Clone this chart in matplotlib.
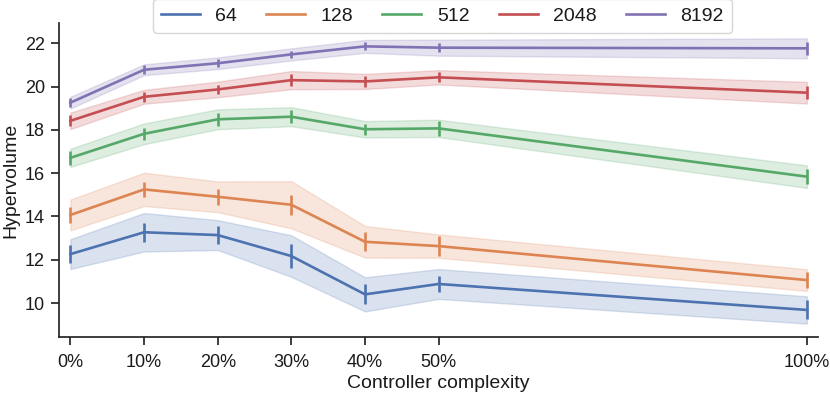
import matplotlib
matplotlib.use("Agg")
import matplotlib.pyplot as plt
import numpy as np

plt.rcParams['font.family'] = ['Liberation Sans', 'DejaVu Sans']

complexity = [0, 10, 20, 30, 40, 50, 100]
tick_labels = ["0%", "10%", "20%", "30%", "40%", "50%", "100%"]
series_names = ["64", "128", "512", "2048", "8192"]

mean_64 = [12.26, 13.27, 13.14, 12.17, 10.40, 10.88, 9.68]
band_64 = [0.69, 0.89, 0.69, 0.96, 0.79, 0.69, 0.63]
err_64 = [0.40, 0.45, 0.42, 0.56, 0.46, 0.38, 0.44]

mean_128 = [14.07, 15.25, 14.91, 14.54, 12.83, 12.63, 11.06]
band_128 = [0.71, 0.77, 0.71, 1.09, 0.73, 0.54, 0.50]
err_128 = [0.38, 0.35, 0.38, 0.47, 0.44, 0.45, 0.38]

mean_512 = [16.71, 17.82, 18.49, 18.61, 18.03, 18.07, 15.84]
band_512 = [0.42, 0.48, 0.46, 0.44, 0.38, 0.40, 0.52]
err_512 = [0.31, 0.27, 0.31, 0.29, 0.25, 0.33, 0.35]

mean_2048 = [18.42, 19.53, 19.87, 20.30, 20.24, 20.43, 19.72]
band_2048 = [0.38, 0.32, 0.36, 0.42, 0.35, 0.33, 0.50]
err_2048 = [0.25, 0.22, 0.21, 0.29, 0.25, 0.23, 0.31]

mean_8192 = [19.26, 20.78, 21.08, 21.49, 21.86, 21.80, 21.77]
band_8192 = [0.27, 0.25, 0.27, 0.28, 0.30, 0.37, 0.46]
err_8192 = [0.21, 0.20, 0.19, 0.17, 0.19, 0.22, 0.31]

colors = ["#4C72B0", "#DD8452", "#55A868", "#C44E52", "#8172B3"]

means = [mean_64, mean_128, mean_512, mean_2048, mean_8192]
bands = [band_64, band_128, band_512, band_2048, band_8192]
errs = [err_64, err_128, err_512, err_2048, err_8192]

fig = plt.figure(figsize=(8.3, 3.94), dpi=100)
ax = fig.add_axes([0.0711, 0.1447, 0.9144, 0.7969])

x = np.array(complexity, dtype=float)
handles = []
for name, m, b, e, c in zip(series_names, means, bands, errs, colors):
    m = np.array(m); b = np.array(b)
    ax.fill_between(x, m - b, m + b, color=c, alpha=0.2, linewidth=1)
    ax.errorbar(x, m, yerr=e, color=c, lw=1.9, elinewidth=1.9, capsize=0)
    h, = ax.plot([], [], color=c, lw=1.9, label=name)
    handles.append(h)

ax.set_xlim(-1.55, 101.5)
ax.set_ylim(8.43, 22.94)
ax.set_xticks(complexity)
ax.set_xticklabels(tick_labels)
ax.set_yticks([10, 12, 14, 16, 18, 20, 22])
ax.tick_params(axis='both', labelsize=13, length=6, width=1.25, color='#262626',
               labelcolor='#1a1a1a')
ax.tick_params(axis='x', pad=6)
ax.tick_params(axis='y', pad=4)
for s in ['top', 'right']:
    ax.spines[s].set_visible(False)
for s in ['left', 'bottom']:
    ax.spines[s].set_linewidth(1.25)
    ax.spines[s].set_color('#262626')

ax.set_xlabel("Controller complexity", fontsize=14, color='#1a1a1a', labelpad=3)
ax.set_ylabel("Hypervolume", fontsize=14, color='#1a1a1a', labelpad=4)

leg = ax.legend(handles=handles, loc='upper center', bbox_to_anchor=(0.505, 1.075),
                ncol=5, fontsize=14, handlelength=2.0, columnspacing=1.5,
                frameon=True, borderaxespad=0)
leg.get_frame().set_edgecolor('#cccccc')
for t in leg.get_texts():
    t.set_color('#1a1a1a')

fig.savefig("out.png", dpi=100)
